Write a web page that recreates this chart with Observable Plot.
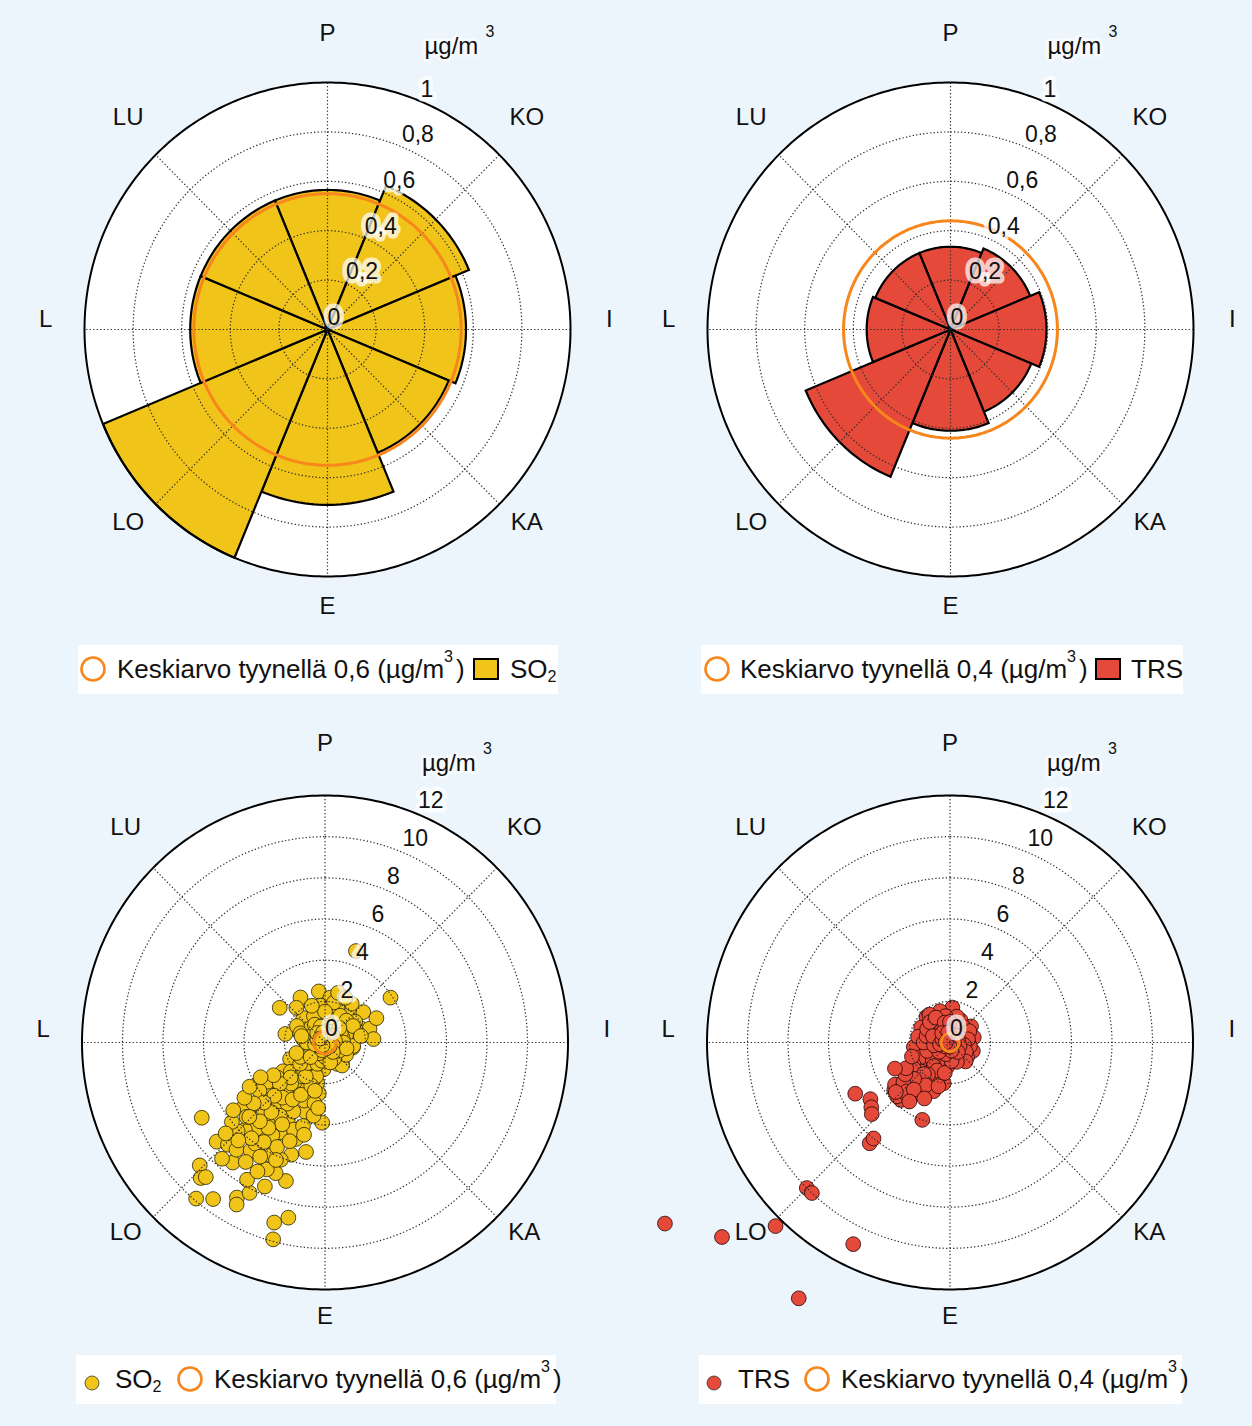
<!DOCTYPE html>
<html>
<head>
<meta charset="utf-8">
<script src="https://cdn.jsdelivr.net/npm/d3@7"></script>
<script src="https://cdn.jsdelivr.net/npm/@observablehq/plot@0.6"></script>
<style>
  html, body { margin: 0; padding: 0; background: #edf5fc; }
  #wrap { position: relative; width: 1252px; height: 1426px; background: #edf5fc; overflow: hidden;
          font-family: "Liberation Sans", Arial, sans-serif; color: #111; }
  .panel { position: absolute; }
  .legend { position: absolute; background: #fff; height: 49px; }
  .legend .t { position: absolute; top: 0; line-height: 49px; font-size: 26px; white-space: nowrap; }
  .legend sup { font-size: 0.62em; vertical-align: 1.0em; line-height: 0; margin-right: 3px; }
  .legend sub { font-size: 0.62em; vertical-align: -0.25em; line-height: 0; }
  .legend svg { position: absolute; top: 0; left: 0; }
</style>
</head>
<body>
<div id="wrap"></div>
<script>
// ---------------- data ----------------
const directionLabels = ["P", "KO", "I", "KA", "E", "LO", "L", "LU"];
const sectorAngles = [0, 45, 90, 135, 180, 225, 270, 315];

// wind-rose sector means (µg/m3), same order as sectorAngles
const so2Sector = [0.565, 0.63, 0.57, 0.54, 0.71, 1.0, 0.565, 0.565];
const trsSector = [0.335, 0.355, 0.395, 0.36, 0.41, 0.645, 0.345, 0.335];

// mean concentration during calm (circle radius)
const so2Calm = 0.55;
const trsCalm = 0.44;

const roseTicks = [0, 0.2, 0.4, 0.6, 0.8, 1];
const roseTickLabels = ["0", "0,2", "0,4", "0,6", "0,8", "1"];
const scatterTicks = [0, 2, 4, 6, 8, 10, 12];
const scatterTickLabels = ["0", "2", "4", "6", "8", "10", "12"];

// hourly points: wind direction (deg) and concentration (µg/m3)
const so2Dir = [239,228,226,223,222,220,216,210,209,207,210,203,196,192,195,196,201,205,208,218,
  222,224,220,215,213,219,223,225,232,227,228,216,207,197,190,197,201,206,206,196,
  196,182,189,229,236,233,214,208,202,207,187,217,205,234,224,307,331,353,7,56,
  282,318,20,42,52,69,73,86,100,78,40,353,313,279,245,212,170,130,245,236,
  223,206,183,150,234,208,191,350,100,261,50,5,56,13,337,71,19,15,
  0,45,90,135,180,225,270,315,20,160,200,240,290,110,60,330,10,140,97,143,
  200,215,225,210,195,218,230,200,190,220,212,222,200,210,230,215,205,195,
  215,220,225,228,218,224,210,205,198,212,218,226,230,208,214,220,226,212,218,222,
  228,210,214,203,200,193,234,236,240,186,192,238,242,210,220,230,240,250,200,190,
  30,45,60,80,65,35,25,0,340,320,300,290,75,120,150,
  0,30,60,90,120,150,180,210,240,270,300,330,15,75,135,195,255,315,45,105,165,225,285,345,
  20,50,80,110,140,170,200,230,260,290,320,350,5,95,185,275,40,130,220,310];
const so2Conc = [7.1,7.2,8.6,9.0,8.8,9.9,9.4,8.7,9.0,8.2,7.7,7.6,9.1,8.7,9.9,7.0,6.8,6.8,7.1,7.4,
  7.6,6.9,6.8,6.4,5.5,5.4,5.8,6.1,5.1,5.3,4.5,4.8,4.9,5.7,5.4,4.9,6.1,6.1,4.2,4.3,
  3.5,3.9,3.6,3.7,3.4,2.6,3.3,2.3,1.6,2.9,2.5,4.0,3.7,4.0,3.2,2.8,2.5,2.5,2.2,3.9,
  2.0,1.6,1.8,1.9,2.4,1.9,2.3,2.4,1.4,1.3,1.3,1.8,1.0,1.1,1.2,1.0,0.6,1.0,1.9,2.5,
  2.0,1.6,1.3,1.2,2.9,2.2,2.0,0.3,0.4,0.4,0.8,1.2,1.8,2.0,1.4,1.1,4.7,2.5,
  0.2,0.5,0.6,0.5,0.4,0.5,0.6,0.5,0.7,0.8,0.9,0.8,0.8,0.7,0.4,0.7,0.9,1.3,1.4,1.4,
  1.5,1.8,1.5,2.6,1.7,2.4,2.2,3.0,3.0,3.0,3.5,4.5,4.5,5.2,6.0,6.0,5.6,4.2,
  2.0,2.6,2.4,3.0,3.4,3.6,3.2,2.8,2.2,4.2,4.3,4.2,4.6,4.5,5.0,5.0,5.2,5.7,5.9,6.4,
  6.6,6.4,7.0,6.2,5.1,4.6,5.6,4.8,4.3,3.2,2.4,3.0,3.6,1.9,1.3,1.6,1.4,1.5,1.1,0.9,
  1.5,1.5,1.6,1.8,2.8,2.3,2.4,1.5,1.9,2.2,1.6,1.3,0.9,1.2,0.9,
  0.5,0.6,0.9,0.9,0.8,0.6,0.7,0.6,0.6,0.9,0.4,1.0,0.3,0.3,0.2,0.2,0.3,0.2,1.0,1.1,1.0,1.0,1.2,0.8,
  0.4,0.5,0.5,0.4,0.6,0.3,0.4,0.3,0.5,0.4,0.6,0.5,0.1,0.2,0.1,0.2,0.3,0.3,0.2,0.3];

const trsDir = [238,230,224,206,211,225,223,219,219,242,235,231,228,200,232,221,225,
  4,342,317,297,263,280,53,78,110,144,187,202,211,217,220,199,189,231,266,320,26,324,74,194,94,
  230,229,244,323,239,233,212,199,201,
  0,60,120,180,240,300,30,150,210,270,330,90,100,130,45,15,350,225,215,195,205,220,225,215,228,210,
  205,215,225,235,220,210,225,230,222,218,235,240,250,245,228,215,205,195,190,250,
  270,285,300,315,330,345,0,20,40,60,80,100,120,140,160,175,
  10,70,130,190,250,310,200,230,260,290,
  20,50,80,110,140,170,230,260,290,320,350,95,185,275];
const trsConc = [16.6,14.7,12.4,10.9,14.5,10.0,10.0,6.3,6.0,5.3,4.8,5.0,5.2,4.0,3.4,3.7,3.7,
  1.7,1.6,1.7,1.6,1.8,1.6,1.3,1.2,1.2,0.9,1.2,1.7,2.2,2.7,3.3,2.5,2.0,1.7,1.0,1.0,1.2,0.5,0.4,0.6,0.9,
  3.6,2.5,1.6,1.7,2.1,3.4,2.6,1.3,1.8,
  0.3,0.6,0.5,0.3,0.5,0.6,0.9,0.7,0.9,0.5,0.9,0.6,1.0,1.1,0.7,1.3,1.3,1.2,1.4,1.6,2.0,2.3,2.8,3.0,3.1,2.9,
  1.5,1.9,2.0,2.2,2.0,2.4,2.5,3.0,3.2,2.9,2.7,2.5,2.0,3.0,3.6,3.5,3.0,2.2,1.5,1.2,
  1.3,1.2,1.3,1.4,1.4,1.0,1.0,0.8,1.0,1.1,0.9,0.7,0.9,1.2,1.0,0.9,
  0.2,0.3,0.3,0.4,0.3,0.3,0.6,0.7,0.8,0.9,
  0.4,0.5,0.4,0.5,0.6,0.4,0.3,0.5,0.4,0.6,0.5,0.2,0.2,0.2];

// ---------------- styling ----------------
const yellow = "#f0c419", red = "#e5493a", orange = "#f7861c";
const FONT = "Liberation Sans, Arial, sans-serif";
const rad = d => d * Math.PI / 180;

function ellipse(r, n = 360) {
  return d3.range(n + 1).map(i => { const a = 2 * Math.PI * i / n; return {x: r * Math.sin(a), y: r * Math.cos(a)}; });
}
function sectors(values) {
  const out = [];
  values.forEach((v, i) => {
    const a0 = sectorAngles[i] - 22.5, a1 = sectorAngles[i] + 22.5;
    out.push({s: i, x: 0, y: 0});
    for (let k = 0; k <= 30; k++) {
      const a = rad(a0 + (a1 - a0) * k / 30);
      out.push({s: i, x: v * Math.sin(a), y: v * Math.cos(a)});
    }
    out.push({s: i, x: 0, y: 0});
  });
  return out;
}
function points(dirs, concs) {
  return dirs.map((d, i) => ({x: concs[i] * Math.sin(rad(d)), y: concs[i] * Math.cos(rad(d))}));
}

function panel({left, top, cx, cy, rx, ry, R, ticks, tickLabels, calm, content, labelDy, tickDy, unitDy}) {
  const rings = ticks.filter(t => t > 0 && t < R).flatMap(t => ellipse(t).map(p => ({...p, t})));
  const spokeLines = [0, 45, 90, 135].flatMap(a => [
    {a, x: R * Math.sin(rad(a)), y: R * Math.cos(rad(a))},
    {a, x: -R * Math.sin(rad(a)), y: -R * Math.cos(rad(a))}
  ]);
  const tickPos = ticks.map((t, i) => ({x: t * Math.sin(rad(22.5)), y: t * Math.cos(rad(22.5)), label: tickLabels[i]}));
  const dirPos = sectorAngles.map((a, i) => ({x: 1.16 * R * Math.sin(rad(a)), y: 1.16 * R * Math.cos(rad(a)), label: directionLabels[i]}));
  const grid = {stroke: "#2a2a2a", strokeWidth: 1.2, strokeDasharray: "1.3,2.2", strokeLinecap: "butt"};

  const chart = Plot.plot({
    width: 626, height: 640, margin: 0,
    x: {domain: [-R, R], range: [cx - rx, cx + rx], axis: null},
    y: {domain: [-R, R], range: [cy + ry, cy - ry], axis: null},
    style: {background: "transparent", overflow: "visible", fontFamily: FONT},
    marks: [
      Plot.line(ellipse(R), {x: "x", y: "y", fill: "#ffffff", stroke: "none"}),
      ...content,
      Plot.line(rings, {x: "x", y: "y", z: "t", ...grid}),
      Plot.line(spokeLines, {x: "x", y: "y", z: "a", ...grid}),
      Plot.line(ellipse(calm), {x: "x", y: "y", stroke: orange, strokeWidth: 3}),
      Plot.line(ellipse(R), {x: "x", y: "y", stroke: "#000", strokeWidth: 2}),
      Plot.text(tickPos, {x: "x", y: "y", text: "label", textAnchor: "start", dx: 0, dy: tickDy,
        fontSize: 23, fill: "#111", stroke: "#ffffff", strokeWidth: 9, strokeOpacity: 0.72, strokeLinejoin: "round"}),
      Plot.text(dirPos, {x: "x", y: "y", text: "label", dy: labelDy, fontSize: 24, fill: "#111"}),
      Plot.text([0], {x: () => 0, y: () => 0, text: () => "µg/m", textAnchor: "start", dx: 97, dy: unitDy, fontSize: 24, fill: "#111",
        stroke: "#ffffff", strokeWidth: 6, strokeOpacity: 0.6, strokeLinejoin: "round"}),
      Plot.text([0], {x: () => 0, y: () => 0, text: () => "3", textAnchor: "start", dx: 158, dy: unitDy - 15, fontSize: 16, fill: "#111"})
    ]
  });
  chart.classList.add("panel");
  chart.style.left = left + "px";
  chart.style.top = top + "px";
  document.getElementById("wrap").appendChild(chart);
}

// Top-left: SO2 wind rose
panel({left: 0, top: 0, cx: 327, cy: 329, rx: 243, ry: 247, R: 1, ticks: roseTicks, tickLabels: roseTickLabels,
  calm: so2Calm, labelDy: -10, tickDy: -12, unitDy: -283,
  content: [Plot.line(sectors(so2Sector), {x: "x", y: "y", z: "s", fill: yellow, stroke: "#000", strokeWidth: 2.2, strokeLinejoin: "miter", strokeMiterlimit: 10})]});

// Top-right: TRS wind rose
panel({left: 626, top: 0, cx: 324, cy: 329, rx: 243, ry: 247, R: 1, ticks: roseTicks, tickLabels: roseTickLabels,
  calm: trsCalm, labelDy: -10, tickDy: -12, unitDy: -283,
  content: [Plot.line(sectors(trsSector), {x: "x", y: "y", z: "s", fill: red, stroke: "#000", strokeWidth: 2.2, strokeLinejoin: "miter", strokeMiterlimit: 10})]});

// Bottom-left: SO2 scatter
panel({left: 0, top: 714, cx: 324.5, cy: 328, rx: 243, ry: 247, R: 12, ticks: scatterTicks, tickLabels: scatterTickLabels,
  calm: so2Calm, labelDy: -13, tickDy: -14, unitDy: -279,
  content: [Plot.dot(points(so2Dir, so2Conc), {x: "x", y: "y", r: 7.4, fill: yellow, stroke: "#1a1a00", strokeWidth: 0.9, strokeOpacity: 0.85})]});

// Bottom-right: TRS scatter
panel({left: 626, top: 714, cx: 323.5, cy: 328, rx: 243, ry: 247, R: 12, ticks: scatterTicks, tickLabels: scatterTickLabels,
  calm: trsCalm, labelDy: -13, tickDy: -14, unitDy: -279,
  content: [Plot.dot(points(trsDir, trsConc), {x: "x", y: "y", r: 7.4, fill: red, stroke: "#1a0000", strokeWidth: 0.9, strokeOpacity: 0.85})]});

// ---------------- legends ----------------
function legend(left, top, width, html) {
  const d = document.createElement("div");
  d.className = "legend";
  d.style.left = left + "px"; d.style.top = top + "px"; d.style.width = width + "px";
  d.innerHTML = html;
  document.getElementById("wrap").appendChild(d);
}
const ring = (x) => `<circle cx="${x}" cy="24" r="11.5" fill="none" stroke="${orange}" stroke-width="2.6"/>`;
const swatch = (x, c) => `<rect x="${x}" y="14" width="24" height="20" fill="${c}" stroke="#000" stroke-width="2"/>`;
const dotSym = (x, c) => `<circle cx="${x}" cy="28" r="7" fill="${c}" stroke="#333" stroke-width="0.8"/>`;
const meanText = v => `Keskiarvo tyynellä ${v} (µg/m<sup>3</sup>)`;

legend(78, 645, 480,
  `<svg width="480" height="49">${ring(15)}${swatch(396, yellow)}</svg>
   <span class="t" style="left:39px">${meanText("0,6")}</span>
   <span class="t" style="left:432px">SO<sub>2</sub></span>`);
legend(701, 645, 482,
  `<svg width="482" height="49">${ring(16)}${swatch(395, red)}</svg>
   <span class="t" style="left:39px">${meanText("0,4")}</span>
   <span class="t" style="left:430px">TRS</span>`);
legend(76, 1355, 480,
  `<svg width="480" height="49">${dotSym(16, yellow)}${ring(114)}</svg>
   <span class="t" style="left:39px">SO<sub>2</sub></span>
   <span class="t" style="left:138px">${meanText("0,6")}</span>`);
legend(699, 1355, 483,
  `<svg width="483" height="49">${dotSym(15, red)}${ring(118)}</svg>
   <span class="t" style="left:39px">TRS</span>
   <span class="t" style="left:142px">${meanText("0,4")}</span>`);
</script>
</body>
</html>
